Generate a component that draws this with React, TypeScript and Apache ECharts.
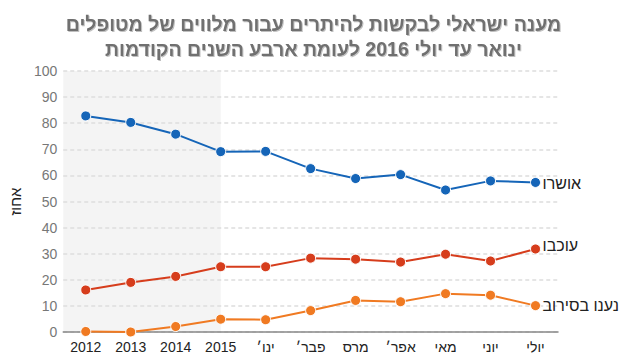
import React, { useEffect, useRef } from "react";
import * as echarts from "echarts";

const categories = ["2012", "2013", "2014", "2015", "ינו׳", "פבר׳", "מרס", "אפר׳", "מאי", "יוני", "יולי"];
const approved = [82.8, 80.3, 75.8, 69.1, 69.2, 62.6, 58.8, 60.3, 54.4, 57.9, 57.3];
const delayed = [16.1, 19.0, 21.3, 25.0, 25.0, 28.3, 27.9, 26.8, 29.8, 27.2, 31.8];
const refused = [0.2, 0.0, 2.1, 4.9, 4.7, 8.2, 12.1, 11.6, 14.7, 14.1, 10.1];
const seriesNames = ["אושרו", "עוכבו", "נענו בסירוב"];
const titleLines = ["מענה ישראלי לבקשות להיתרים עבור מלווים של מטופלים", "ינואר עד יולי 2016 לעומת ארבע השנים הקודמות"];
const yAxisName = "אחוז";
const shadedUntil = "2015";

const colors = ["#1565b8", "#d63d1c", "#f07a22"];

export default function App() {
  const ref = useRef<HTMLDivElement>(null);
  useEffect(() => {
    if (!ref.current) return;
    const chart = echarts.init(ref.current, null, { renderer: "svg" });
    const mk = (name: string, data: number[], color: string, offY: number) => ({
      name,
      type: "line",
      data,
      symbol: "circle",
      symbolSize: 10,
      color,
      lineStyle: { width: 2, color },
      itemStyle: { color, borderColor: "#fff", borderWidth: 1 },
      endLabel: {
        show: true,
        formatter: "{a}",
        color: "#222",
        fontSize: 16,
        fontFamily: "Liberation Sans, Arial, sans-serif",
        offset: [-1, offY],
      },
      z: 3,
    });
    chart.setOption({
      animation: false,
      backgroundColor: "#fff",
      title: {
        text: titleLines.join("\n"),
        left: "center",
        top: 6,
        textStyle: {
          color: "#707070",
          fontSize: 19.5,
          fontWeight: "bold",
          lineHeight: 25,
          fontFamily: "Liberation Sans, Arial, sans-serif",
          textShadowColor: "rgba(0,0,0,0.25)",
          textShadowBlur: 1,
          textShadowOffsetX: 1,
          textShadowOffsetY: 1,
        },
      },
      grid: { left: 62, right: 69, top: 71, bottom: 29, containLabel: false },
      xAxis: {
        type: "category",
        data: categories,
        boundaryGap: true,
        axisLine: { lineStyle: { color: "#888", width: 1.5 } },
        axisTick: { show: false },
        axisLabel: {
          color: "#222",
          fontSize: 14,
          margin: 8,
          fontFamily: "Liberation Sans Narrow, Liberation Sans, Arial, sans-serif",
        },
        splitLine: { show: false },
      },
      yAxis: {
        type: "value",
        min: 0,
        max: 100,
        interval: 10,
        name: yAxisName,
        nameLocation: "middle",
        nameGap: 38,
        nameRotate: 90,
        nameTextStyle: { color: "#222", fontSize: 15, fontFamily: "Liberation Sans, Arial, sans-serif" },
        axisLine: { show: false },
        axisTick: { show: false },
        axisLabel: {
          color: "#777",
          fontSize: 14,
          margin: 6,
          fontFamily: "Liberation Sans Narrow, Liberation Sans, Arial, sans-serif",
        },
        splitLine: { lineStyle: { color: "#ddd", type: [4, 3], width: 1.5 } },
      },
      series: [
        mk(seriesNames[0], approved, colors[0], 1),
        mk(seriesNames[1], delayed, colors[1], -4),
        mk(seriesNames[2], refused, colors[2], 0),
      ],
    });
    const x0 = chart.convertToPixel({ xAxisIndex: 0 }, categories[0]) as number;
    const x1 = chart.convertToPixel({ xAxisIndex: 0 }, shadedUntil) as number;
    const yTop = chart.convertToPixel({ yAxisIndex: 0 }, 100) as number;
    const yBot = chart.convertToPixel({ yAxisIndex: 0 }, 0) as number;
    const step = (chart.convertToPixel({ xAxisIndex: 0 }, categories[1]) as number) - x0;
    const left = x0 - step / 2;
    chart.setOption({
      graphic: [
        {
          type: "rect",
          shape: { x: left, y: yTop, width: x1 - left, height: yBot - yTop },
          style: { fill: "#f4f4f4" },
          z: -10,
          silent: true,
        },
      ],
    });
    return () => chart.dispose();
  }, []);
  return <div ref={ref} style={{ width: 627, height: 361, position: "absolute", left: 0, top: 0 }} />;
}
